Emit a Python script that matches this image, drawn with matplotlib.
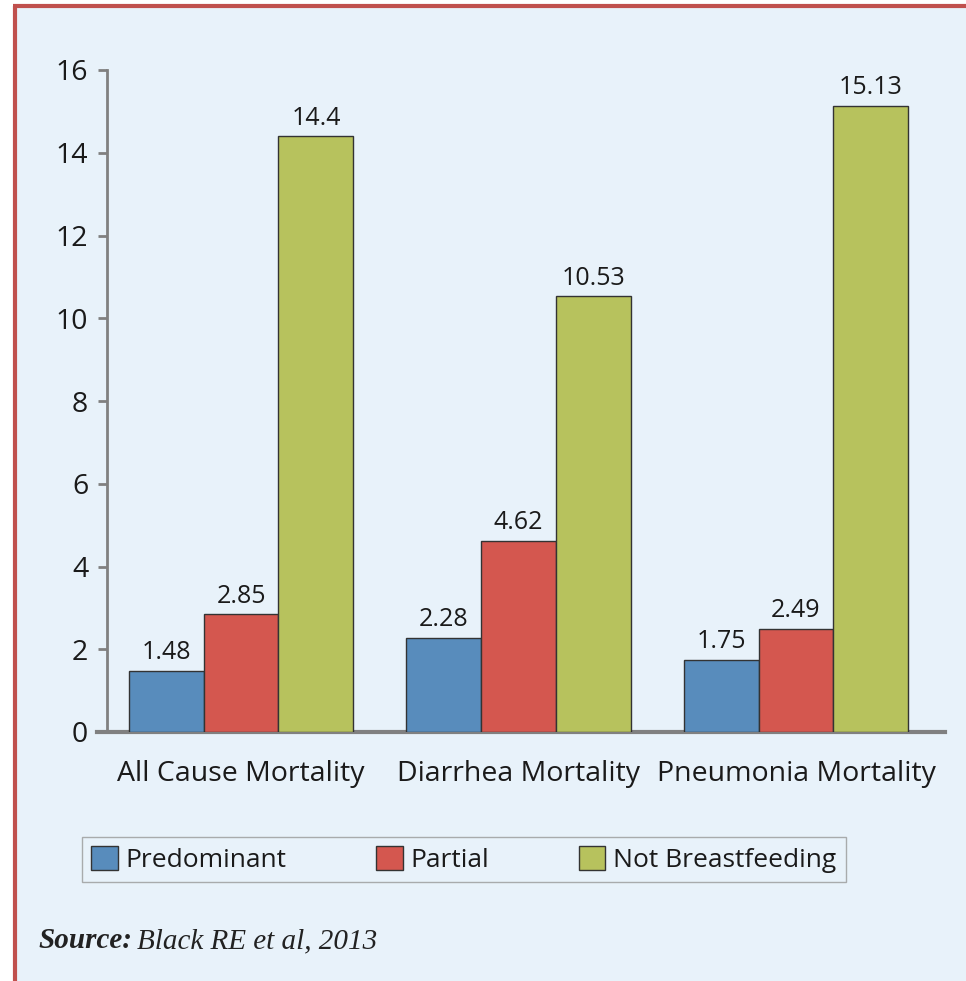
import numpy as np
import matplotlib.pyplot as plt
from matplotlib.patches import Rectangle
from matplotlib.lines import Line2D

# data
categories = ['All Cause Mortality', 'Diarrhea Mortality', 'Pneumonia Mortality']
series_names = ['Predominant', 'Partial', 'Not Breastfeeding']
predominant = [1.48, 2.28, 1.75]
partial = [2.85, 4.62, 2.49]
not_bf = [14.4, 10.53, 15.13]
value_labels = [['1.48', '2.28', '1.75'], ['2.85', '4.62', '2.49'], ['14.4', '10.53', '15.13']]
yticks = [0, 2, 4, 6, 8, 10, 12, 14, 16]

colors = ['#588CBC', '#D4574F', '#B7C25D']
bg = '#E8F2FA'
font = 'Open Sans'

fig = plt.figure(figsize=(9.66, 9.81), dpi=100, facecolor='white')
# background panel and red frame (left + top only)
fig.patches.append(Rectangle((13 / 966, 0), 1, 1 - 4 / 981, transform=fig.transFigure,
                             facecolor=bg, edgecolor='none', zorder=-5))
fig.lines.append(Line2D([15 / 966, 15 / 966], [0, 1 - 6 / 981], transform=fig.transFigure,
                        color='#C0504D', lw=3, solid_capstyle='butt', zorder=-4))
fig.lines.append(Line2D([13 / 966, 1], [1 - 6 / 981, 1 - 6 / 981], transform=fig.transFigure,
                        color='#C0504D', lw=3, solid_capstyle='butt', zorder=-4))

ax = fig.add_axes([107 / 966, 1 - 732 / 981, 838 / 966, 662 / 981])
ax.set_facecolor('none')
ax.set_zorder(2)

x = np.arange(len(categories))
w = 0.27
data = [predominant, partial, not_bf]
for i, vals in enumerate(data):
    bars = ax.bar(x + (i - 1) * w, vals, w, color=colors[i], edgecolor='#333333',
                  linewidth=1, label=series_names[i], zorder=3)
    for b, lab in zip(bars, value_labels[i]):
        ax.annotate(lab, (b.get_x() + b.get_width() / 2, b.get_height()),
                    xytext=(0, 4), textcoords='offset points', ha='center', va='bottom',
                    fontsize=18, family=font, color='#1a1a1a')

ax.set_xlim(-0.483, 2.537)
ax.set_ylim(0, 16)
ax.set_yticks(yticks)
ax.set_yticklabels([str(t) for t in yticks], family=font, fontsize=20.5, color='#1a1a1a')
ax.set_xticks(x)
ax.set_xticklabels(categories, family=font, fontsize=20.5, color='#1a1a1a')
ax.tick_params(axis='x', length=0, pad=20)
ax.tick_params(axis='y', length=6.5, width=2, color='#808080', pad=7)
for s in ['top', 'right']:
    ax.spines[s].set_visible(False)
ax.spines['left'].set_color('#808080')
ax.spines['left'].set_linewidth(2)
ax.spines['bottom'].set_color('#808080')
ax.spines['bottom'].set_linewidth(3)
ax.spines['bottom'].set_bounds(-0.519, 2.537)

leg = fig.legend(loc='upper left', bbox_to_anchor=(82 / 966, 1 - 837 / 981), ncol=3,
                 prop={'family': font, 'size': 19}, frameon=True, fancybox=False,
                 handlelength=1.0, handleheight=1.0, handletextpad=0.3,
                 columnspacing=3.4, borderpad=0.35, borderaxespad=0)
leg.get_frame().set_edgecolor('#999999')
leg.get_frame().set_facecolor(bg)
leg.get_frame().set_linewidth(1)
for t in leg.get_texts():
    t.set_color('#1a1a1a')

fig.text(38 / 966, 1 - 948 / 981, 'Source:', family='Liberation Serif', style='italic',
         weight='bold', fontsize=21, va='baseline', color='#222222')
fig.text(137 / 966, 1 - 948 / 981, 'Black RE et al, 2013', family='Liberation Serif',
         style='italic', fontsize=21, va='baseline', color='#222222')

plt.savefig('out.png', dpi=100, facecolor=fig.get_facecolor())
